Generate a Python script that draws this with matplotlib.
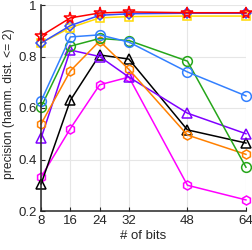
import numpy as np
import matplotlib
matplotlib.use('Agg')
import matplotlib.pyplot as plt

plt.rcParams['font.family'] = ['Liberation Sans', 'DejaVu Sans']

bits = [8, 16, 24, 32, 48, 64]

red     = [0.880, 0.950, 0.969, 0.973, 0.970, 0.970]
blue_d  = [0.852, 0.920, 0.960, 0.966, 0.968, 0.968]
yellow  = [0.853, 0.912, 0.950, 0.955, 0.957, 0.957]
blue_o  = [0.627, 0.876, 0.884, 0.856, 0.740, 0.647]
green   = [0.604, 0.840, 0.870, 0.862, 0.782, 0.370]
orange  = [0.538, 0.744, 0.860, 0.750, 0.495, 0.420]
purple  = [0.483, 0.825, 0.800, 0.720, 0.580, 0.500]
black   = [0.305, 0.630, 0.806, 0.790, 0.515, 0.464]
magenta = [0.332, 0.520, 0.690, 0.720, 0.300, 0.243]

fig = plt.figure(figsize=(2.52, 2.5), dpi=100)
ax = fig.add_axes([0.163, 0.156, 0.813, 0.824])

def line(y, c, m, ms=6):
	ax.plot(bits, y, '-', color=c, marker=m, markersize=ms, markerfacecolor='none',
		markeredgecolor=c, linewidth=1.1, markeredgewidth=1.1, clip_on=False)

line(magenta, (1, 0, 1), 'h', 6.5)
line(black, 'k', '^', 7)
line(purple, (0.5, 0, 1), '^', 7)
line(orange, (1, 0.5, 0), 'h', 6.5)
line(green, (0.15, 0.65, 0.1), 'o', 7)
line(blue_o, (0.2, 0.5, 1), 'o', 7)
line(yellow, (1, 0.85, 0), 's', 6)
line(blue_d, (0.2, 0.3, 1), 'D', 5)
line(red, (1, 0, 0), '*', 8.5)

ax.set_xlim(8, 64)
ax.set_ylim(0.2, 1.0)
ax.set_xticks(bits)
ax.set_yticks([0.2, 0.4, 0.6, 0.8, 1.0])
ax.set_yticklabels(['0.2', '0.4', '0.6', '0.8', '1'])
ax.grid(True, color='#e6e6e6', linewidth=0.8)
ax.set_axisbelow(True)
for s in ['top', 'right']:
	ax.spines[s].set_visible(False)
for s in ['left', 'bottom']:
	ax.spines[s].set_linewidth(1.1)
	ax.spines[s].set_color('#262626')
ax.tick_params(labelsize=9.5, length=3, direction='in', pad=3, colors='#262626')
ax.set_xlabel('# of bits', fontsize=9.5, labelpad=2, color='#262626')
ax.set_ylabel('precision (hamm. dist. <= 2)', fontsize=8.7, color='#262626')
ax.yaxis.set_label_coords(-0.125, 0.52)

fig.savefig('out.png', dpi=100)
